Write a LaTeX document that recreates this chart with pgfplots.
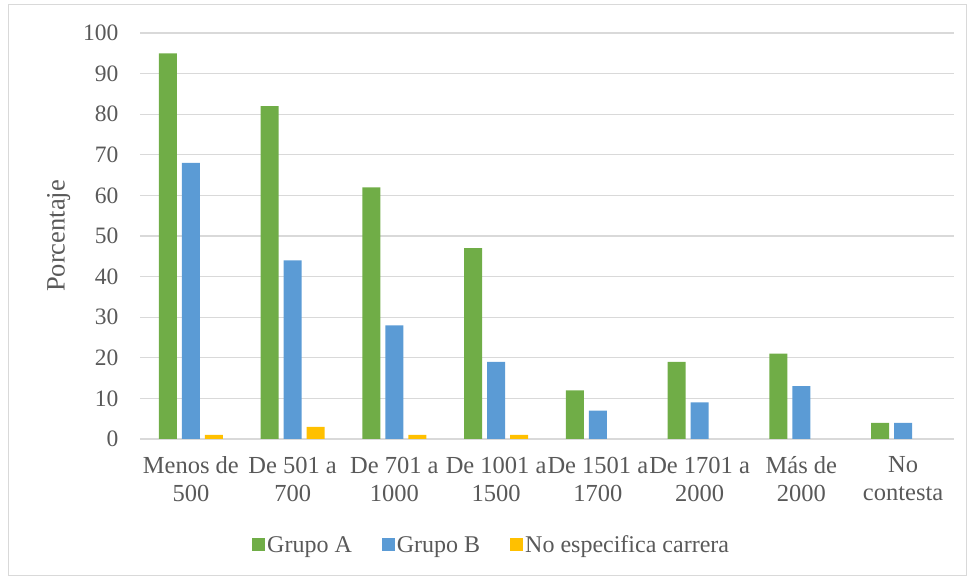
\documentclass[border=0pt]{standalone}
\usepackage{fontspec}
\setmainfont{Liberation Serif}
\usepackage{pgfplots}
\pgfplotsset{compat=1.18}
\definecolor{gA}{HTML}{70AD47}
\definecolor{gB}{HTML}{5B9BD5}
\definecolor{gC}{HTML}{FFC000}
\definecolor{txt}{HTML}{595959}
\definecolor{gridc}{HTML}{D9D9D9}
\begin{document}
\begin{tikzpicture}[x=1bp,y=1bp]
\path[use as bounding box] (0,0) rectangle (974,581);
\draw[color=gridc, line width=1bp] (8,5) rectangle (966,576);
\begin{axis}[
  at={(140bp,142bp)}, anchor=south west,
  scale only axis, width=814bp, height=406bp,
  xmin=-0.5, xmax=7.5, ymin=0, ymax=100,
  ytick={0,10,...,100}, xtick={0,...,7},
  xticklabels={{Menos de\\500},{De 501 a\\700},{De 701 a\\1000},{De 1001 a\\1500},{De 1501 a\\1700},{De 1701 a\\2000},{Más de\\2000},{No\\contesta}},
  ybar=5bp, bar width=18bp,
  ymajorgrids, grid style={color=gridc, line width=1.3bp},
  axis line style={draw=none}, major tick style={draw=none},
  /pgf/number format/assume math mode=true,
  yticklabel style={font=\fontsize{23.5bp}{28bp}\selectfont, text=txt, xshift=-18bp},
  xticklabel style={font=\fontsize{24.5bp}{28bp}\selectfont, text=txt, align=center, anchor=north, yshift=-10bp},
  ylabel={Porcentaje},
  ylabel style={at={(axis description cs:-0.1,0.5)}, anchor=center, font=\fontsize{26.5bp}{30bp}\selectfont, text=txt},
  legend style={at={(0.432,-0.261)}, anchor=center, draw=none, fill=none, legend columns=3,
    font=\fontsize{24bp}{28bp}\selectfont, text=txt,
    /tikz/every even column/.append style={column sep=28bp}},
  legend image code/.code={\path[#1, draw=none] (0bp,-6.5bp) rectangle (13bp,6.5bp);},
]
\addplot[fill=gA, draw=none] coordinates {(0,95) (1,82) (2,62) (3,47) (4,12) (5,19) (6,21) (7,4)};
\addplot[fill=gB, draw=none] coordinates {(0,68) (1,44) (2,28) (3,19) (4,7) (5,9) (6,13) (7,4)};
\addplot[fill=gC, draw=none] coordinates {(0,1) (1,3) (2,1) (3,1)};
\legend{Grupo A, Grupo B, No especifica carrera}
\end{axis}
\end{tikzpicture}
\end{document}
